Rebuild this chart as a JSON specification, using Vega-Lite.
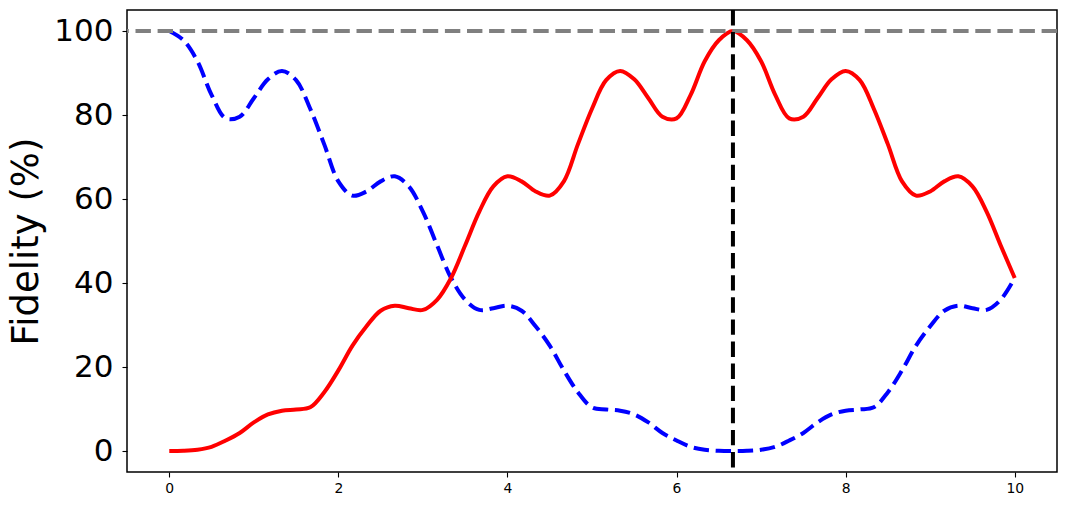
{
  "$schema": "https://vega.github.io/schema/vega-lite/v6.json",
  "autosize": {"type": "none"},
  "padding": {"left": 127, "top": 10, "right": 10, "bottom": 33},
  "width": 930,
  "height": 462,
  "config": {
    "font": "DejaVu Sans",
    "view": {"stroke": "black", "strokeWidth": 1.5},
    "axis": {"grid": false, "domain": false, "tickColor": "black", "tickWidth": 1.1, "tickSize": 5, "labelColor": "black", "titleColor": "black", "titleFontWeight": "normal"}
  },
  "data": {"values": [
    {"t": 0, "red": 0, "blue": 100},
    {"t": 0.167, "red": 0.05, "blue": 97.8},
    {"t": 0.333, "red": 0.3, "blue": 92.8},
    {"t": 0.5, "red": 1.0, "blue": 84.8},
    {"t": 0.667, "red": 2.5, "blue": 79.2},
    {"t": 0.833, "red": 4.3, "blue": 79.6},
    {"t": 1, "red": 6.8, "blue": 84.0},
    {"t": 1.167, "red": 8.7, "blue": 88.5},
    {"t": 1.333, "red": 9.6, "blue": 90.5},
    {"t": 1.5, "red": 9.9, "blue": 88.3},
    {"t": 1.667, "red": 10.4, "blue": 81.5},
    {"t": 1.833, "red": 14.0, "blue": 73.0},
    {"t": 2, "red": 19.2, "blue": 64.2},
    {"t": 2.167, "red": 25.1, "blue": 60.8},
    {"t": 2.333, "red": 29.7, "blue": 61.8},
    {"t": 2.5, "red": 33.4, "blue": 64.2},
    {"t": 2.667, "red": 34.6, "blue": 65.4},
    {"t": 2.833, "red": 34.0, "blue": 63.0},
    {"t": 3, "red": 33.6, "blue": 57.0},
    {"t": 3.167, "red": 36.0, "blue": 49.0},
    {"t": 3.333, "red": 41.2, "blue": 41.2},
    {"t": 3.5, "red": 49.0, "blue": 36.0},
    {"t": 3.667, "red": 57.0, "blue": 33.6},
    {"t": 3.833, "red": 63.0, "blue": 34.0},
    {"t": 4, "red": 65.4, "blue": 34.6},
    {"t": 4.167, "red": 64.2, "blue": 33.4},
    {"t": 4.333, "red": 61.8, "blue": 29.7},
    {"t": 4.5, "red": 60.8, "blue": 25.1},
    {"t": 4.667, "red": 64.2, "blue": 19.2},
    {"t": 4.833, "red": 73.0, "blue": 14.0},
    {"t": 5, "red": 81.5, "blue": 10.4},
    {"t": 5.167, "red": 88.3, "blue": 9.9},
    {"t": 5.333, "red": 90.5, "blue": 9.6},
    {"t": 5.5, "red": 88.5, "blue": 8.7},
    {"t": 5.667, "red": 84.0, "blue": 6.8},
    {"t": 5.833, "red": 79.6, "blue": 4.3},
    {"t": 6, "red": 79.2, "blue": 2.5},
    {"t": 6.167, "red": 84.8, "blue": 1.0},
    {"t": 6.333, "red": 92.8, "blue": 0.3},
    {"t": 6.5, "red": 97.8, "blue": 0.05},
    {"t": 6.667, "red": 100, "blue": 0},
    {"t": 6.833, "red": 97.8, "blue": 0.05},
    {"t": 7, "red": 92.8, "blue": 0.3},
    {"t": 7.167, "red": 84.8, "blue": 1.0},
    {"t": 7.333, "red": 79.2, "blue": 2.5},
    {"t": 7.5, "red": 79.6, "blue": 4.3},
    {"t": 7.667, "red": 84.0, "blue": 6.8},
    {"t": 7.833, "red": 88.5, "blue": 8.7},
    {"t": 8, "red": 90.5, "blue": 9.6},
    {"t": 8.167, "red": 88.3, "blue": 9.9},
    {"t": 8.333, "red": 81.5, "blue": 10.4},
    {"t": 8.5, "red": 73.0, "blue": 14.0},
    {"t": 8.667, "red": 64.2, "blue": 19.2},
    {"t": 8.833, "red": 60.8, "blue": 25.1},
    {"t": 9, "red": 61.8, "blue": 29.7},
    {"t": 9.167, "red": 64.2, "blue": 33.4},
    {"t": 9.333, "red": 65.4, "blue": 34.6},
    {"t": 9.5, "red": 63.0, "blue": 34.0},
    {"t": 9.667, "red": 57.0, "blue": 33.6},
    {"t": 9.833, "red": 49.0, "blue": 36.0},
    {"t": 10, "red": 41.2, "blue": 41.2}
  ]},
  "layer": [
    {
      "mark": {"type": "line", "color": "#0000ff", "strokeWidth": 4, "strokeDash": [15.4, 6.7], "interpolate": "catmull-rom", "clip": true},
      "encoding": {
        "x": {"field": "t", "type": "quantitative", "scale": {"domain": [-0.5, 10.5], "nice": false, "zero": false},
              "axis": {"values": [0, 2, 4, 6, 8, 10], "format": "d", "title": null, "labelFontSize": 13.9, "labelPadding": 4}},
        "y": {"field": "blue", "type": "quantitative", "scale": {"domain": [-5, 105], "nice": false, "zero": false},
              "axis": {"values": [0, 20, 40, 60, 80, 100], "title": "Fidelity (%)", "titleFontSize": 37, "labelFontSize": 31, "labelPadding": 9, "titlePadding": 8}}
      }
    },
    {
      "mark": {"type": "line", "color": "#ff0000", "strokeWidth": 4, "interpolate": "catmull-rom", "clip": true},
      "encoding": {
        "x": {"field": "t", "type": "quantitative"},
        "y": {"field": "red", "type": "quantitative"}
      }
    },
    {
      "data": {"values": [{"level": 100}]},
      "mark": {"type": "rule", "color": "#808080", "strokeWidth": 4, "strokeDash": [15.4, 6.7]},
      "encoding": {"y": {"field": "level", "type": "quantitative"}}
    },
    {
      "data": {"values": [{"time": 6.667}]},
      "mark": {"type": "rule", "color": "#000000", "strokeWidth": 4, "strokeDash": [15.4, 6.7]},
      "encoding": {"x": {"field": "time", "type": "quantitative"}}
    }
  ]
}
